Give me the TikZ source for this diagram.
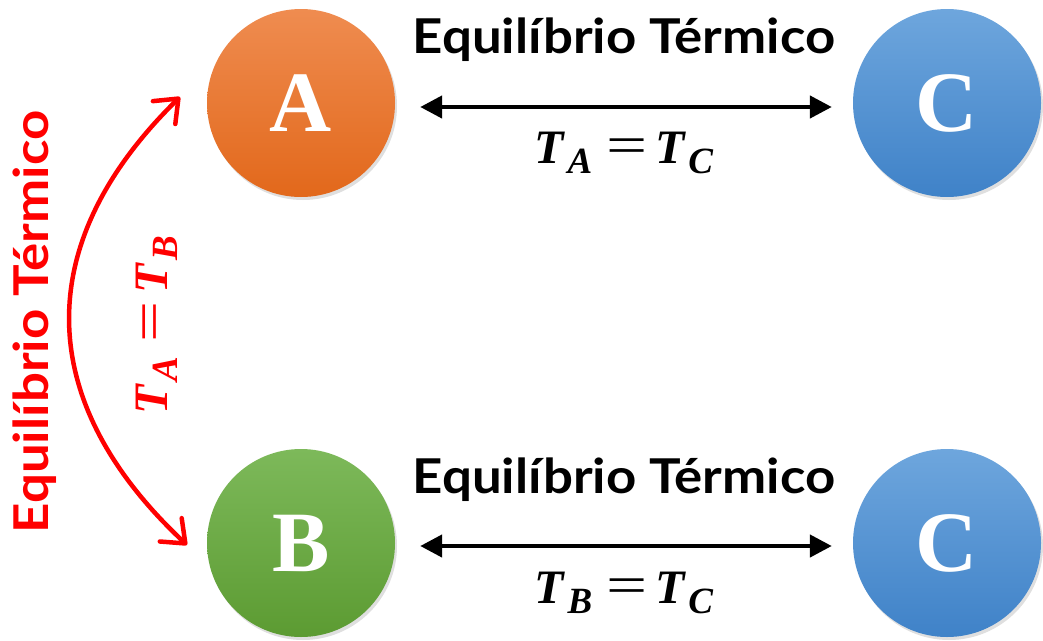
\documentclass[tikz,border=0pt]{standalone}
\usepackage{fontspec}
\newfontfamily\labelfont{Lato}
\newfontfamily\letterfont{Liberation Serif}
\usetikzlibrary{arrows.meta,shadows}
\definecolor{orangetop}{HTML}{EF8C50}
\definecolor{orangebot}{HTML}{E2681B}
\definecolor{greentop}{HTML}{7DB95A}
\definecolor{greenbot}{HTML}{5C9B32}
\definecolor{bluetop}{HTML}{6EA6DD}
\definecolor{bluebot}{HTML}{3F82C8}
\definecolor{eqred}{HTML}{FF0000}
\newcommand{\Tsub}[1]{\textit{T}\kern2pt\raisebox{-10pt}{\fontsize{37}{37}\selectfont\textit{#1}}}
\newcommand{\eqn}[2]{\Tsub{#1}\kern14pt\scalebox{1.35}[1]{\mdseries\fontsize{54}{54}\selectfont=}\kern8pt\Tsub{#2}}
\newcommand{\wide}[1]{\scalebox{1.1}[1]{#1}}
\tikzset{
  ball/.style={circle, minimum size=188pt, inner sep=0pt,
    drop shadow={opacity=0.25, shadow xshift=2pt, shadow yshift=-3pt},
    font=\letterfont\bfseries\fontsize{86}{90}\selectfont, text=white},
  eqlabel/.style={font=\labelfont\bfseries\fontsize{48}{52}\selectfont, anchor=base},
  eqmath/.style={font=\letterfont\bfseries\fontsize{48}{52}\selectfont, anchor=base},
  blackarrow/.style={line width=4.5pt, {Triangle[length=22pt,width=22pt]}-{Triangle[length=22pt,width=22pt]}},
  redarrow/.style={line width=4.5pt, eqred, line cap=round,
    {Straight Barb[length=20pt,width=32pt,line cap=round,round]}-{Straight Barb[length=20pt,width=32pt,line cap=round,round]}}
}
\begin{document}
\begin{tikzpicture}[x=1pt,y=1pt]
\useasboundingbox (0,0) rectangle (1043,-640);
\node[ball, top color=orangetop, bottom color=orangebot] (A) at (301,-103) {A};
\node[ball, top color=bluetop, bottom color=bluebot] (C1) at (947,-103) {C};
\node[ball, top color=greentop, bottom color=greenbot] (B) at (301,-543) {B};
\node[ball, top color=bluetop, bottom color=bluebot] (C2) at (947,-543) {C};

\node[eqlabel] (l1) at (624,-53) {\wide{Equilíbrio Térmico}};
\node[eqlabel] (l2) at (624,-493) {\wide{Equilíbrio Térmico}};
\node[eqmath] (m1) at (624,-163) {\eqn{A}{C}};
\node[eqmath] (m2) at (624,-603) {\eqn{B}{C}};

\draw[blackarrow, shorten <=25pt, shorten >=21pt] ([yshift=-4pt]A.east) -- ([yshift=-4pt]C1.west);
\draw[blackarrow, shorten <=25pt, shorten >=21pt] ([yshift=-3pt]B.east) -- ([yshift=-3pt]C2.west);

\coordinate (a1) at (180,-97);
\coordinate (b1) at (187,-545);
\draw[redarrow] (b1) .. controls (32,-400) and (32,-242) .. (a1);

\node[eqlabel, anchor=center, rotate=90, text=eqred] (l3) at (35,-322) {\wide{Equilíbrio Térmico}};
\node[eqmath, anchor=center, rotate=90, text=eqred] (m3) at (157,-325) {\eqn{A}{B}};
\end{tikzpicture}
\end{document}
